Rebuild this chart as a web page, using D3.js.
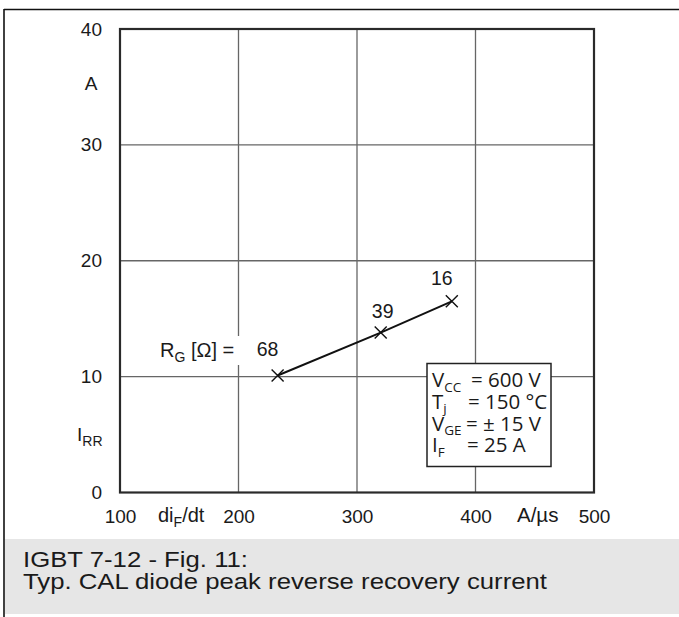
<!DOCTYPE html>
<html>
<head>
<meta charset="utf-8">
<script src="https://cdn.jsdelivr.net/npm/d3@7"></script>
<style>
  html, body { margin: 0; padding: 0; background: #fff; }
  svg { display: block; }
  .sans { font-family: "Liberation Sans", Arial, sans-serif; fill: #1a1a1a; }
  .box { font-family: "Open Sans", "Noto Sans", sans-serif; fill: #1a1a1a; }
</style>
</head>
<body>
<svg id="chart" width="679" height="617"></svg>
<script>
// Diode peak reverse recovery current vs. diF/dt for several gate resistors
const rgLabels = ["68", "39", "16"];          // R_G in ohm
const difdt    = [233, 320, 380];             // A/µs
const irr      = [10.1, 13.8, 16.5];          // A
const xTicks   = [100, 200, 300, 400, 500];
const yTicks   = [0, 10, 20, 30, 40];
const conditions = [
  { main: "V", sub: "CC", rest: "= 600 V" },
  { main: "T", sub: "j",  rest: "= 150 °C" },
  { main: "V", sub: "GE", rest: "= ± 15 V" },
  { main: "I", sub: "F",  rest: "= 25 A" }
];
const captionLines = ["IGBT 7-12 - Fig. 11:", "Typ. CAL diode peak reverse recovery current"];

// layout helpers (label nudges and "=" column in the condition box)
const labelDx = [-10, 2, -10];
const labelDy = [-19, -15, -16];
const restX   = [471, 468, 466, 467];

const svg = d3.select("#chart");
const x = d3.scaleLinear().domain([100, 500]).range([120, 594]);
const y = d3.scaleLinear().domain([0, 40]).range([492.5, 29]);

// outer sheet frame (top and left edge)
svg.append("line").attr("x1", 4).attr("x2", 679).attr("y1", 9.5).attr("y2", 9.5)
  .attr("stroke", "#111").attr("stroke-width", 1.6);
svg.append("line").attr("x1", 4).attr("x2", 4).attr("y1", 9).attr("y2", 617)
  .attr("stroke", "#111").attr("stroke-width", 1.6);

// caption band (caption type is set slightly wide)
svg.append("rect").attr("x", 5).attr("y", 539).attr("width", 674).attr("height", 75)
  .attr("fill", "#e6e6e6");
svg.selectAll("text.caption").data(captionLines).join("text")
  .attr("class", "caption sans")
  .attr("transform", (d, i) => `translate(23,${567 + i * 22}) scale(1.17,1)`)
  .attr("font-size", 22)
  .text(d => d);

// grid
const grid = svg.append("g");
grid.selectAll("line.vx").data(xTicks.slice(1, -1)).join("line")
  .attr("x1", d => x(d)).attr("x2", d => x(d))
  .attr("y1", y(40)).attr("y2", y(0))
  .attr("stroke", "#666").attr("stroke-width", 1.3);
grid.selectAll("line.hy").data(yTicks.slice(1, -1)).join("line")
  .attr("x1", x(100)).attr("x2", x(500))
  .attr("y1", d => y(d)).attr("y2", d => y(d))
  .attr("stroke", "#666").attr("stroke-width", 1.3);

// plot frame
svg.append("rect")
  .attr("x", x(100)).attr("y", y(40))
  .attr("width", x(500) - x(100)).attr("height", y(0) - y(40))
  .attr("fill", "none").attr("stroke", "#2a2a2a").attr("stroke-width", 2.2);

// y axis tick labels
const yAxis = d3.axisLeft(y).tickValues(yTicks).tickSize(0).tickPadding(18)
  .tickFormat(d3.format("d"));
const gy = svg.append("g").attr("transform", `translate(${x(100)},0)`).call(yAxis);
gy.select(".domain").remove();
gy.selectAll("text").attr("class", "sans").attr("font-size", 19)
  .attr("font-family", null).attr("fill", "#1a1a1a");

// x axis tick labels
const xAxis = d3.axisBottom(x).tickValues(xTicks).tickSize(0).tickPadding(17)
  .tickFormat(d3.format("d"));
const gx = svg.append("g").attr("transform", `translate(0,${y(0)})`).call(xAxis);
gx.select(".domain").remove();
gx.selectAll("text").attr("class", "sans").attr("font-size", 19)
  .attr("font-family", null).attr("fill", "#1a1a1a");

// axis unit / name labels
svg.append("text").attr("class", "sans").attr("font-size", 19)
  .attr("x", 91).attr("y", 90).attr("text-anchor", "middle").text("A");
const irrLabel = svg.append("text").attr("class", "sans").attr("font-size", 19)
  .attr("x", 77).attr("y", 440.5);
irrLabel.append("tspan").text("I");
irrLabel.append("tspan").attr("font-size", 14).attr("dy", 5).text("RR");

const difLabel = svg.append("text").attr("class", "sans").attr("font-size", 20)
  .attr("x", 158).attr("y", 522);
difLabel.append("tspan").text("di");
difLabel.append("tspan").attr("font-size", 14).attr("dy", 5).text("F");
difLabel.append("tspan").attr("dy", -5).text("/dt");
svg.append("text").attr("class", "sans").attr("font-size", 20.5)
  .attr("x", 517).attr("y", 522).text("A/µs");

// curve
const pts = difdt.map((d, i) => ({ x: d, y: irr[i], label: rgLabels[i], i }));
svg.append("path")
  .datum(pts)
  .attr("d", d3.line().x(d => x(d.x)).y(d => y(d.y)))
  .attr("fill", "none").attr("stroke", "#111").attr("stroke-width", 2);

// cross markers
const m = 6;
svg.selectAll("path.mark").data(pts).join("path")
  .attr("class", "mark")
  .attr("d", d => {
    const cx = x(d.x), cy = y(d.y);
    return `M${cx - m},${cy - m}L${cx + m},${cy + m}M${cx - m},${cy + m}L${cx + m},${cy - m}`;
  })
  .attr("stroke", "#111").attr("stroke-width", 1.4).attr("fill", "none");

// R_G labels next to the markers
svg.selectAll("text.rg").data(pts).join("text")
  .attr("class", "rg sans").attr("font-size", 19.5)
  .attr("x", d => x(d.x) + labelDx[d.i]).attr("y", d => y(d.y) + labelDy[d.i])
  .attr("text-anchor", "middle")
  .text(d => d.label);

// "R_G [Ω] =" legend label on a white patch
svg.append("rect").attr("x", 156).attr("y", 336).attr("width", 85).attr("height", 29)
  .attr("fill", "#fff");
const rgText = svg.append("text").attr("class", "sans").attr("font-size", 20)
  .attr("x", 160).attr("y", 357);
rgText.append("tspan").text("R");
rgText.append("tspan").attr("font-size", 14).attr("dy", 5).text("G");
rgText.append("tspan").attr("dy", -5).text(" [Ω] =");

// test-condition box
const bx = 427, by = 363.5, bw = 124, bh = 103;
svg.append("rect").attr("x", bx).attr("y", by).attr("width", bw).attr("height", bh)
  .attr("fill", "#fff").attr("stroke", "#222").attr("stroke-width", 1.5);
conditions.forEach((c, i) => {
  const base = 387 + i * 21.8;
  const t = svg.append("text").attr("class", "box").attr("font-size", 20.5)
    .attr("x", 432).attr("y", base);
  t.append("tspan").text(c.main);
  t.append("tspan").attr("font-size", 13.5).attr("dy", 4.5).text(c.sub);
  t.append("tspan").attr("x", restX[i]).attr("y", base).text(c.rest);
});
</script>
</body>
</html>
